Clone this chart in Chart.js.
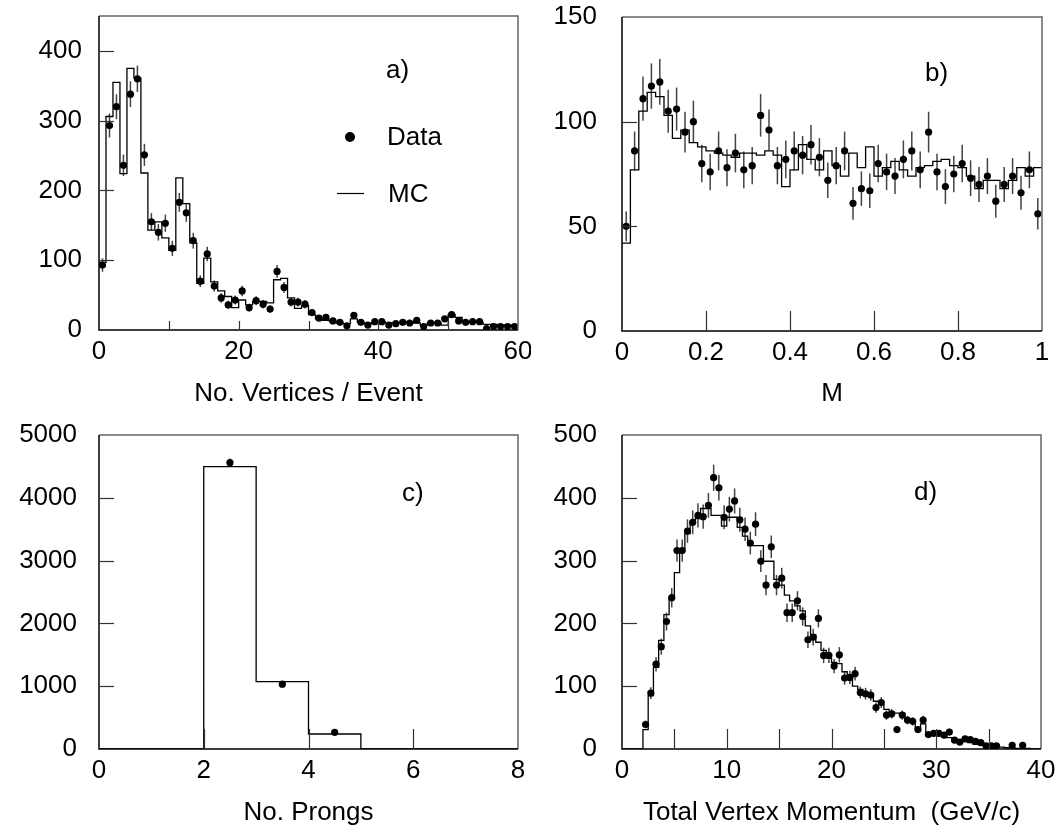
<!DOCTYPE html>
<html><head><meta charset="utf-8">
<script src="https://cdn.jsdelivr.net/npm/chart.js@4.4.1/dist/chart.umd.min.js"></script>
<style>
html,body{margin:0;padding:0;background:#fff;}
#wrap{position:relative;width:1062px;height:831px;overflow:hidden;}
canvas{position:absolute;}
</style></head><body>
<div id="wrap">
<canvas id="ca" width="531" height="415" style="left:0;top:0"></canvas>
<canvas id="cb" width="531" height="415" style="left:531px;top:0"></canvas>
<canvas id="cc" width="531" height="416" style="left:0;top:415px"></canvas>
<canvas id="cd" width="531" height="416" style="left:531px;top:415px"></canvas>
</div>
<script>
// ---------- Panel a: No. Vertices / Event (60 bins of width 1) ----------
const aBinLow = 0, aBinWidth = 1;
const aData = [93,293,320,236,338,360,251,155,140,153,117,183,168,128,70,109,63,46,36,43,
               56,32,42,37,30,84,61,40,40,37,25,17,18,13,11,6,21,11,7,12,
               12,7,9,11,10,14,5,10,10,16,22,13,11,12,12,2,5,5,5,5];
const aMC   = [97,306,355,224,375,361,225,143,155,132,114,218,181,125,67,103,69,56,48,32,
               43,36,41,41,39,72,74,46,31,35,22,16,14,12,10,9,16,11,9,11,
               12,10,10,11,12,10,7,10,10,7,22,18,12,11,11,8,8,7,7,7];
const aXMarks = [10,20,30,40,50], aYMarks = [100,200,300,400];

// ---------- Panel b: M (50 bins of width 0.02) ----------
const bBinLow = 0, bBinWidth = 0.02;
const bData = [50,86,111,117,119,105,106,95,100,80,76,86,78,85,77,79,103,96,79,82,
               86,84,89,83,72,79,86,61,68,67,80,76,74,82,86,77,95,76,69,75,
               80,73,70,74,62,70,74,66,77,56];
const bMC   = [42,77,105,114,112,103,92,96,90,88,86,85,84,83,85,85,84,86,84,69,
               77,89,82,77,86,79,74,85,78,88,74,78,81,77,74,78,79,81,82,79,
               78,74,68,72,72,68,72,78,74,78];
const bXMarks = [0.2,0.4,0.6,0.8], bYMarks = [50,100];

// ---------- Panel c: No. Prongs (8 bins of width 1) ----------
const cBinLow = 0, cBinWidth = 1;
const cData = [null,null,4559,1032,266,null,null,null];
const cMC   = [0,0,4495,1074,239,0,0,0];
const cXMarks = [2,4,6], cYMarks = [1000,2000,3000,4000];

// ---------- Panel d: Total Vertex Momentum (80 bins of width 0.5) ----------
const dBinLow = 0, dBinWidth = 0.5;
const dData = [null,null,null,null,39,89,135,163,203,241,
               316,316,347,361,372,370,388,432,416,369,
               382,395,365,350,328,358,299,261,322,261,
               272,217,217,236,211,174,178,208,149,149,
               132,150,113,114,120,90,88,86,66,74,
               54,56,31,54,46,44,31,46,23,25,
               25,22,27,14,11,16,15,12,10,5,
               5,5,null,null,6,null,6,null,null,null];
const dMC   = [0,0,0,0,31,85,130,173,214,241,
               281,319,343,359,367,383,383,372,372,355,
               369,369,353,339,324,324,324,299,299,270,
               261,245,236,228,220,196,182,170,157,145,
               138,136,123,113,100,95,90,88,76,71,
               63,59,57,57,47,44,32,40,25,24,
               22,20,18,15,14,12,10,8,7,5,
               4,3,3,2,2,1,1,1,0,0];
const dXMarks = [5,10,15,20,25,30,35], dYMarks = [100,200,300,400];

const FONT = "'Liberation Sans', Arial, Helvetica, sans-serif";
const FS = 26;

function stepPoints(lo, w, vals){
  const pts = [];
  vals.forEach((v,i)=>{ pts.push({x: lo + i*w, y: v}); pts.push({x: lo + (i+1)*w, y: v}); });
  return pts;
}
function dataPoints(lo, w, vals){
  const pts = [];
  vals.forEach((v,i)=>{ if (v !== null) pts.push({x: lo + (i+0.5)*w, y: v}); });
  return pts;
}
function zeroPad(s){ s.paddingTop = 0; s.paddingBottom = 0; s.paddingLeft = 0; s.paddingRight = 0; }

function makePanel(cfg){
  const decor = {
    id: 'decor',
    beforeDatasetsDraw(chart){
      const ctx = chart.ctx, xs = chart.scales.x, ys = chart.scales.y;
      ctx.save();
      ctx.strokeStyle = '#444'; ctx.lineWidth = 1.5;
      cfg.points.forEach(p=>{
        const e = Math.sqrt(p.y);
        const px = xs.getPixelForValue(p.x);
        ctx.beginPath();
        ctx.moveTo(px, ys.getPixelForValue(p.y - e));
        ctx.lineTo(px, ys.getPixelForValue(p.y + e));
        ctx.stroke();
      });
      ctx.restore();
    },
    afterDraw(chart){
      const ctx = chart.ctx, a = chart.chartArea, xs = chart.scales.x, ys = chart.scales.y;
      ctx.save();
      ctx.lineWidth = 1.5;
      ctx.strokeStyle = '#666';
      ctx.beginPath(); ctx.moveTo(a.left, a.top); ctx.lineTo(a.right, a.top); ctx.lineTo(a.right, a.bottom); ctx.stroke();
      ctx.strokeStyle = '#000';
      ctx.beginPath(); ctx.moveTo(a.left, a.top); ctx.lineTo(a.left, a.bottom); ctx.lineTo(a.right, a.bottom); ctx.stroke();
      ctx.lineWidth = 1.2; ctx.strokeStyle = '#333';
      cfg.xMarks.forEach(v=>{
        const px = Math.round(xs.getPixelForValue(v)) + 0.5;
        ctx.beginPath(); ctx.moveTo(px, a.bottom); ctx.lineTo(px, a.bottom - cfg.xMarkLen); ctx.stroke();
      });
      cfg.yMarks.forEach(v=>{
        const py = Math.round(ys.getPixelForValue(v)) + 0.5;
        ctx.beginPath(); ctx.moveTo(a.left, py); ctx.lineTo(a.left + 15, py); ctx.stroke();
      });
      ctx.fillStyle = '#000';
      ctx.font = FS + 'px ' + FONT;
      ctx.textBaseline = 'middle'; ctx.textAlign = 'left';
      ctx.fillText(cfg.label, cfg.labelX, cfg.labelY);
      if (cfg.legend){
        ctx.beginPath(); ctx.arc(350, 137, 5, 0, Math.PI*2); ctx.fill();
        ctx.fillText('Data', 387, 138);
        ctx.lineWidth = 1.2; ctx.strokeStyle = '#000';
        ctx.beginPath(); ctx.moveTo(337, 193.5); ctx.lineTo(364, 193.5); ctx.stroke();
        ctx.fillText('MC', 388, 195);
      }
      ctx.restore();
    }
  };
  return new Chart(document.getElementById(cfg.id), {
    data: {
      datasets: [
        { type: 'line', data: cfg.mcPoints, borderColor: '#000', borderWidth: 1.3,
          pointRadius: 0, tension: 0, fill: false, order: 2 },
        { type: 'scatter', data: cfg.points, backgroundColor: '#000', borderColor: '#000',
          pointRadius: 3.6, pointHoverRadius: 3.6, borderWidth: 0, order: 1 }
      ]
    },
    options: {
      responsive: false, animation: false, devicePixelRatio: 1,
      layout: { padding: { top: cfg.padTop, right: cfg.padRight, left: 0, bottom: 0 } },
      plugins: { legend: { display: false }, tooltip: { enabled: false } },
      scales: {
        x: {
          type: 'linear', min: cfg.xMin, max: cfg.xMax,
          grid: { display: false, drawTicks: false }, border: { display: false },
          ticks: { stepSize: cfg.xStep, color: '#000', font: { family: FONT, size: FS },
                   padding: 6, maxRotation: 0, autoSkip: false,
                   callback: v => String(+(+v).toFixed(2)) },
          title: { display: true, text: cfg.xTitle, color: '#000', font: { family: FONT, size: FS },
                   padding: { top: 0, bottom: cfg.titlePad } },
          afterFit: s => { s.height = cfg.xH; zeroPad(s); }
        },
        y: {
          type: 'linear', min: 0, max: cfg.yMax,
          grid: { display: false, drawTicks: false }, border: { display: false },
          ticks: { stepSize: cfg.yStep, includeBounds: false, color: '#000',
                   font: { family: FONT, size: FS }, padding: cfg.yPad,
                   callback: v => String(v) },
          afterFit: s => { s.width = cfg.yW; zeroPad(s); }
        }
      }
    },
    plugins: [decor]
  });
}

makePanel({ id: 'ca', padTop: 16, padRight: 13, xH: 85, yW: 99, yPad: 17, titlePad: 6,
  xMin: 0, xMax: 60, xStep: 20, yMax: 450, yStep: 100,
  xMarks: aXMarks, yMarks: aYMarks, xMarkLen: 9,
  xTitle: 'No. Vertices / Event', label: 'a)', labelX: 386, labelY: 71, legend: true,
  mcPoints: stepPoints(aBinLow, aBinWidth, aMC), points: dataPoints(aBinLow, aBinWidth, aData) });

makePanel({ id: 'cb', padTop: 17, padRight: 20, xH: 84, yW: 91, yPad: 25, titlePad: 6,
  xMin: 0, xMax: 1, xStep: 0.2, yMax: 150, yStep: 50,
  xMarks: bXMarks, yMarks: bYMarks, xMarkLen: 20,
  xTitle: 'M', label: 'b)', labelX: 394, labelY: 74, legend: false,
  mcPoints: stepPoints(bBinLow, bBinWidth, bMC), points: dataPoints(bBinLow, bBinWidth, bData) });

makePanel({ id: 'cc', padTop: 20, padRight: 13, xH: 82, yW: 99, yPad: 22, titlePad: 3,
  xMin: 0, xMax: 8, xStep: 2, yMax: 5000, yStep: 1000,
  xMarks: cXMarks, yMarks: cYMarks, xMarkLen: 20,
  xTitle: 'No. Prongs', label: 'c)', labelX: 402, labelY: 79, legend: false,
  mcPoints: stepPoints(cBinLow, cBinWidth, cMC), points: dataPoints(cBinLow, cBinWidth, cData) });

makePanel({ id: 'cd', padTop: 20, padRight: 21, xH: 82, yW: 91, yPad: 25, titlePad: 3,
  xMin: 0, xMax: 40, xStep: 10, yMax: 500, yStep: 100,
  xMarks: dXMarks, yMarks: dYMarks, xMarkLen: 20,
  xTitle: 'Total Vertex Momentum  (GeV/c)', label: 'd)', labelX: 383, labelY: 78, legend: false,
  mcPoints: stepPoints(dBinLow, dBinWidth, dMC), points: dataPoints(dBinLow, dBinWidth, dData) });
</script>
</body></html>
